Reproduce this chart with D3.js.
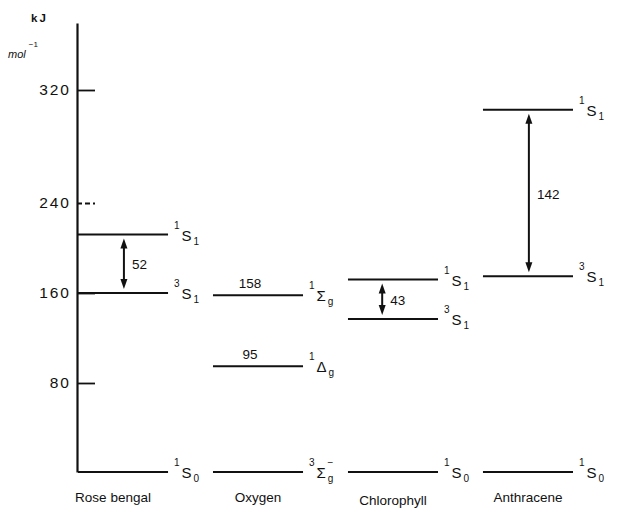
<!DOCTYPE html>
<html>
<head>
<meta charset="utf-8">
<script src="https://cdn.jsdelivr.net/npm/d3@7/dist/d3.min.js"></script>
<style>
  html, body { margin: 0; padding: 0; background: #fff; }
  svg text { font-family: "Liberation Sans", Arial, Helvetica, sans-serif; fill: #111; }
</style>
</head>
<body>
<svg id="chart" width="621" height="516"></svg>
<script>
// ---------- data ----------
const species = ["Rose bengal", "Oxygen", "Chlorophyll", "Anthracene"];

const tickValues = [80, 160, 240, 320];
const tickLabels = ["80", "160", "240", "320"];

// energy levels (kJ mol^-1)
const levelSpecies = ["Rose bengal", "Rose bengal", "Rose bengal",
                      "Oxygen", "Oxygen", "Oxygen",
                      "Chlorophyll", "Chlorophyll", "Chlorophyll",
                      "Anthracene", "Anthracene", "Anthracene"];
const levelEnergy  = [0, 160, 212,  0, 95, 158,  0, 137, 172,  0, 175, 306];
const levelSup     = ["1", "3", "1",  "3", "1", "1",  "1", "3", "1",  "1", "3", "1"];
const levelSymbol  = ["S", "S", "S",  "Σ", "Δ", "Σ",  "S", "S", "S",  "S", "S", "S"];
const levelSub     = ["0", "1", "1",  "g", "g", "g",  "0", "1", "1",  "0", "1", "1"];
const levelSubSup  = ["", "", "",  "−", "", "",  "", "", "",  "", "", ""];

// value labels written above oxygen levels
const valueSpecies = ["Oxygen", "Oxygen"];
const valueEnergy  = [158, 95];
const valueText    = ["158", "95"];

// singlet–triplet gaps (double arrows)
const gapSpecies = ["Rose bengal", "Chlorophyll", "Anthracene"];
const gapLow     = [160, 137, 175];
const gapHigh    = [212, 172, 306];
const gapText    = ["52", "43", "142"];

// ---------- drawing ----------
const svg = d3.select("#chart");

// piecewise-linear axis as printed in the original figure
const y = d3.scaleLinear()
  .domain([0, 80, 160, 240, 320, 367])
  .range([472, 383, 293, 203, 90, 23]);

const x = d3.scaleBand()
  .domain(species)
  .range([78, 573])
  .paddingInner(0.333)
  .paddingOuter(0);

const axisX = 77;

// axis line + labels
const axisG = svg.append("g").attr("transform", `translate(${axisX},0)`);
axisG.call(d3.axisLeft(y).tickValues(tickValues)
    .tickFormat((d, i) => tickLabels[i])
    .tickSizeInner(0).tickSizeOuter(0).tickPadding(6));
axisG.select(".domain").attr("stroke", "#111").attr("stroke-width", 2.2);
axisG.selectAll(".tick text")
  .attr("font-size", 15.5)
  .attr("letter-spacing", "2px")
  .style("font-family", "'Liberation Sans', Arial, sans-serif")
  .attr("fill", "#111");

// tick marks to the right of the axis
const tickG = svg.append("g").attr("transform", `translate(${axisX},0)`);
tickG.call(d3.axisRight(y).tickValues(tickValues).tickFormat("").tickSizeInner(18).tickSizeOuter(0));
tickG.select(".domain").remove();
tickG.selectAll(".tick line")
  .attr("stroke", "#111")
  .attr("stroke-width", 1.8)
  .attr("stroke-dasharray", d => d === 240 ? "5,3" : null);

// unit label
svg.append("text").attr("x", 31).attr("y", 22)
  .attr("font-size", 11.5).attr("font-weight", "bold").attr("letter-spacing", "2px").text("kJ");
const unit = svg.append("text").attr("x", 8).attr("y", 58)
  .attr("font-size", 11).attr("font-style", "italic");
unit.append("tspan").text("mol");
unit.append("tspan").attr("dx", 3).attr("y", 47).attr("font-size", 8).attr("font-style", "normal").text("−1");

// levels
const levels = levelEnergy.map((e, i) => ({
  sp: levelSpecies[i], e, sup: levelSup[i], sym: levelSymbol[i], sub: levelSub[i], subsup: levelSubSup[i]
}));

svg.append("g").selectAll("line").data(levels).join("line")
  .attr("x1", d => x(d.sp) === x.range()[0] ? axisX : x(d.sp))
  .attr("x2", d => x(d.sp) + x.bandwidth())
  .attr("y1", d => y(d.e)).attr("y2", d => y(d.e))
  .attr("stroke", "#111").attr("stroke-width", 2);

// term symbols
const term = svg.append("g").selectAll("text").data(levels).join("text")
  .attr("x", d => x(d.sp) + x.bandwidth() + 6)
  .attr("y", d => y(d.e));
term.each(function(d) {
  const t = d3.select(this), yy = y(d.e);
  t.append("tspan").attr("y", yy - 6).attr("font-size", 10).text(d.sup);
  t.append("tspan").attr("dx", 2).attr("y", yy + 6).attr("font-size", 15).text(d.sym);
  t.append("tspan").attr("dx", 2).attr("y", yy + 10).attr("font-size", 10).text(d.sub);
  if (d.subsup) t.append("tspan").attr("dx", -6).attr("y", yy - 6).attr("font-size", 10).text(d.subsup);
});

// numeric values above oxygen levels
svg.append("g").selectAll("text").data(valueEnergy).join("text")
  .attr("x", (e, i) => x(valueSpecies[i]) + x.bandwidth() / 2 - 8)
  .attr("y", e => y(e) - 7)
  .attr("text-anchor", "middle")
  .attr("font-size", 13.5)
  .text((e, i) => valueText[i]);

// double arrows for singlet–triplet gaps
const gaps = gapText.map((t, i) => ({ sp: gapSpecies[i], lo: gapLow[i], hi: gapHigh[i], t }));
const arrowX = d => x(d.sp) + x.bandwidth() * (d.sp === "Chlorophyll" ? 0.38 : 0.51);
const gapG = svg.append("g");
gaps.forEach(d => {
  const ax = arrowX(d);
  const yTop = y(d.hi) + 4, yBot = y(d.lo) - 4;
  gapG.append("line").attr("x1", ax).attr("x2", ax)
    .attr("y1", yTop + 6).attr("y2", yBot - 6)
    .attr("stroke", "#111").attr("stroke-width", 2);
  gapG.append("path")
    .attr("d", `M${ax},${yTop} L${ax - 3.5},${yTop + 10} L${ax + 3.5},${yTop + 10} Z`)
    .attr("fill", "#111");
  gapG.append("path")
    .attr("d", `M${ax},${yBot} L${ax - 3.5},${yBot - 10} L${ax + 3.5},${yBot - 10} Z`)
    .attr("fill", "#111");
  gapG.append("text")
    .attr("x", ax + 8)
    .attr("y", (y(d.hi) + y(d.lo)) / 2 + 1)
    .attr("dy", "0.35em")
    .attr("font-size", 13.5)
    .text(d.t);
});

// species names
svg.append("g").selectAll("text").data(species).join("text")
  .attr("x", d => x(d) + x.bandwidth() / 2 - (d === "Rose bengal" ? 10 : 0))
  .attr("y", d => d === "Chlorophyll" ? 505 : 502)
  .attr("text-anchor", "middle")
  .attr("font-size", 13.5)
  .text(d => d);
</script>
</body>
</html>
